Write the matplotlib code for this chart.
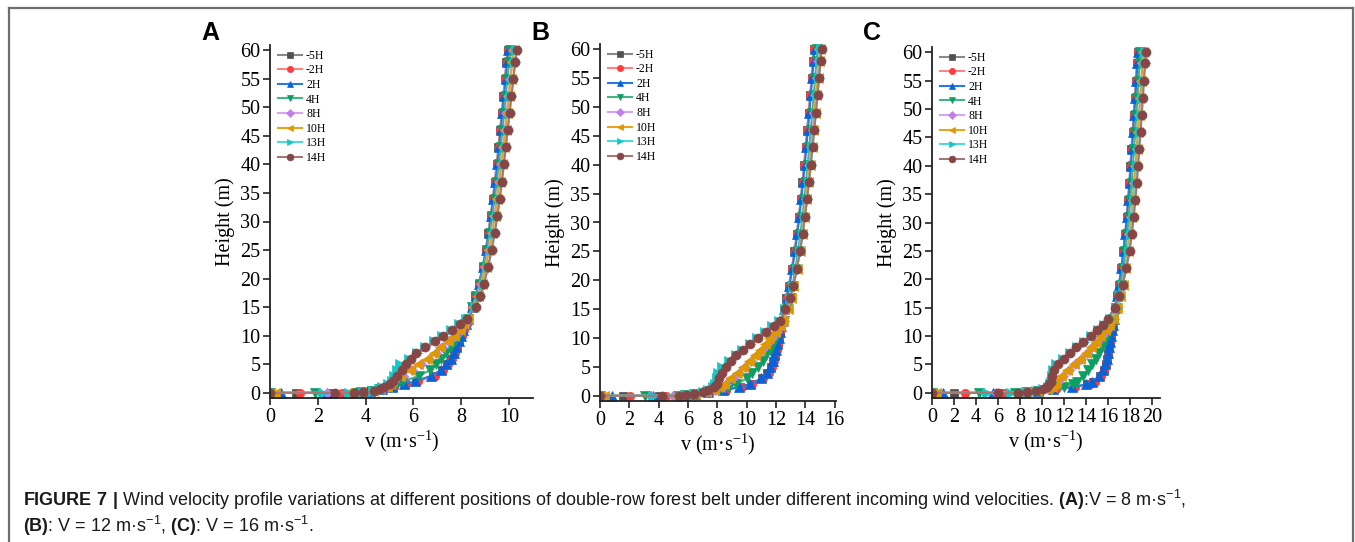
import matplotlib
matplotlib.use("Agg")
import matplotlib.pyplot as plt
from matplotlib.lines import Line2D

plt.rcParams['font.family'] = ['Liberation Serif', 'DejaVu Serif']
plt.rcParams['mathtext.fontset'] = 'custom'
plt.rcParams['mathtext.rm'] = 'Liberation Serif'
plt.rcParams['mathtext.sf'] = 'Liberation Sans'
plt.rcParams['mathtext.bf'] = 'Liberation Sans:bold'

# heights shared by every profile (m)
heights = [0, 0, 0, 0.1, 0.3, 0.6, 1, 1.5, 2, 3, 4, 5, 6, 7, 8, 9, 10, 11, 12, 13,
           15, 17, 19, 22, 25, 28, 31, 34, 37, 40, 43, 46, 49, 52, 55, 58, 60]

positions = ['-5H', '-2H', '2H', '4H', '8H', '10H', '13H', '14H']

# panel A, V = 8 m/s
a_m5h = [0, 1.1, 2.6, 3.7, 4.2, 4.7, 5.15, 5.65, 6.1, 6.8, 7.2, 7.42, 7.58, 7.7, 7.81, 7.9, 7.99, 8.08, 8.18, 8.28,
         8.44, 8.59, 8.73, 8.89, 9.02, 9.13, 9.23, 9.32, 9.4, 9.48, 9.55, 9.62, 9.69, 9.76, 9.82, 9.89, 9.94]
a_m2h = [0, 1.25, 3.0, 3.75, 4.25, 4.75, 5.2, 5.7, 6.2, 6.9, 7.25, 7.45, 7.6, 7.72, 7.83, 7.92, 8.02, 8.12, 8.22, 8.3,
         8.45, 8.6, 8.75, 8.9, 9.03, 9.14, 9.24, 9.33, 9.41, 9.49, 9.56, 9.63, 9.7, 9.77, 9.83, 9.9, 9.95]
a_2h = [0, 0.45, 2.4, 3.7, 4.2, 4.7, 5.1, 5.6, 6.05, 6.75, 7.15, 7.38, 7.55, 7.68, 7.79, 7.89, 7.98, 8.08, 8.18, 8.28,
        8.44, 8.6, 8.74, 8.9, 9.04, 9.15, 9.25, 9.34, 9.43, 9.51, 9.58, 9.65, 9.72, 9.79, 9.86, 9.92, 9.97]
a_4h = [0, 1.9, 3.6, 3.8, 4.25, 4.6, 5.0, 5.3, 5.55, 6.25, 6.7, 6.95, 7.15, 7.38, 7.58, 7.75, 7.9, 8.02, 8.14, 8.28,
        8.45, 8.62, 8.77, 8.93, 9.07, 9.19, 9.3, 9.4, 9.49, 9.57, 9.65, 9.72, 9.79, 9.86, 9.93, 10.0, 10.05]
a_8h = [0, 2.4, 3.4, 3.8, 4.3, 4.65, 4.95, 5.1, 5.2, 5.55, 5.95, 6.3, 6.65, 6.95, 7.2, 7.5, 7.75, 8.0, 8.15, 8.3,
        8.5, 8.68, 8.83, 9.0, 9.14, 9.27, 9.38, 9.48, 9.57, 9.66, 9.74, 9.82, 9.89, 9.97, 10.04, 10.11, 10.16]
a_10h = [0, 0.2, 3.2, 3.8, 4.3, 4.6, 4.9, 5.0, 5.1, 5.45, 5.85, 6.2, 6.55, 6.85, 7.1, 7.45, 7.7, 7.95, 8.12, 8.3,
         8.5, 8.69, 8.85, 9.02, 9.17, 9.3, 9.41, 9.51, 9.6, 9.69, 9.77, 9.85, 9.92, 10.0, 10.07, 10.14, 10.2]
a_13h = [0, 2.2, 3.3, 3.9, 4.3, 4.55, 4.7, 4.95, 5.1, 5.2, 5.3, 5.45, 5.8, 6.15, 6.5, 6.85, 7.2, 7.55, 7.9, 8.2,
         8.58, 8.78, 8.94, 9.12, 9.27, 9.4, 9.51, 9.61, 9.7, 9.78, 9.86, 9.94, 10.02, 10.1, 10.18, 10.25, 10.3]
a_14h = [0, 2.7, 3.5, 3.9, 4.35, 4.6, 4.75, 5.0, 5.15, 5.3, 5.5, 5.7, 5.9, 6.1, 6.5, 6.9, 7.25, 7.6, 7.95, 8.25,
         8.6, 8.8, 8.95, 9.12, 9.27, 9.4, 9.51, 9.61, 9.7, 9.78, 9.86, 9.94, 10.02, 10.1, 10.18, 10.26, 10.32]

# panel B, V = 12 m/s
b_m5h = [0, 1.6, 4.0, 5.8, 6.5, 7.4, 8.5, 9.55, 10.3, 11.05, 11.42, 11.64, 11.8, 11.93, 12.03, 12.12, 12.2, 12.28, 12.35, 12.42,
         12.55, 12.71, 12.88, 13.08, 13.26, 13.42, 13.56, 13.69, 13.81, 13.92, 14.03, 14.13, 14.23, 14.33, 14.43, 14.52, 14.58]
b_m2h = [0, 2.05, 4.5, 5.9, 6.6, 7.5, 8.6, 9.7, 10.4, 11.15, 11.5, 11.7, 11.85, 11.97, 12.07, 12.15, 12.22, 12.3, 12.37, 12.44,
         12.57, 12.73, 12.9, 13.1, 13.28, 13.44, 13.58, 13.71, 13.83, 13.94, 14.05, 14.15, 14.25, 14.35, 14.45, 14.55, 14.62]
b_2h = [0, 0.8, 3.6, 5.8, 6.5, 7.4, 8.4, 9.5, 10.2, 11.0, 11.38, 11.6, 11.77, 11.9, 12.0, 12.1, 12.18, 12.27, 12.35, 12.43,
        12.57, 12.74, 12.92, 13.12, 13.3, 13.46, 13.6, 13.73, 13.85, 13.97, 14.08, 14.18, 14.28, 14.38, 14.48, 14.57, 14.64]
b_4h = [0, 3.1, 5.3, 5.8, 6.5, 7.3, 8.1, 8.8, 9.3, 10.0, 10.4, 10.8, 11.1, 11.35, 11.6, 11.8, 12.0, 12.2, 12.4, 12.58,
        12.77, 12.95, 13.13, 13.33, 13.51, 13.67, 13.81, 13.94, 14.06, 14.17, 14.28, 14.38, 14.48, 14.58, 14.68, 14.77, 14.83]
b_8h = [0, 3.5, 5.0, 5.8, 6.5, 7.2, 7.85, 8.3, 8.6, 9.05, 9.5, 9.9, 10.3, 10.7, 11.05, 11.4, 11.7, 12.05, 12.35, 12.58,
        12.82, 13.02, 13.2, 13.42, 13.6, 13.76, 13.91, 14.04, 14.16, 14.28, 14.39, 14.5, 14.6, 14.7, 14.8, 14.9, 14.96]
b_10h = [0, 0.3, 5.1, 5.8, 6.5, 7.2, 7.8, 8.2, 8.45, 8.9, 9.35, 9.75, 10.15, 10.55, 10.9, 11.25, 11.55, 11.95, 12.25, 12.5,
         12.8, 13.02, 13.2, 13.43, 13.62, 13.79, 13.94, 14.07, 14.2, 14.32, 14.43, 14.54, 14.64, 14.75, 14.85, 14.95, 15.02]
b_13h = [0, 3.6, 5.5, 5.9, 6.4, 7.0, 7.35, 7.7, 7.85, 7.95, 8.05, 8.3, 8.8, 9.25, 9.7, 10.2, 10.7, 11.25, 11.75, 12.2,
         12.65, 12.97, 13.18, 13.43, 13.64, 13.82, 13.98, 14.12, 14.25, 14.37, 14.49, 14.6, 14.71, 14.82, 14.93, 15.03, 15.1]
b_14h = [0, 4.2, 5.4, 5.9, 6.4, 7.0, 7.4, 7.8, 8.0, 8.15, 8.35, 8.6, 8.95, 9.3, 9.75, 10.25, 10.8, 11.35, 11.85, 12.3,
         12.65, 12.97, 13.18, 13.43, 13.65, 13.83, 13.99, 14.13, 14.26, 14.38, 14.5, 14.62, 14.73, 14.84, 14.95, 15.05, 15.12]

# panel C, V = 16 m/s
c_m5h = [0, 2.0, 6.0, 8.5, 9.7, 11.1, 12.8, 14.1, 14.65, 15.25, 15.58, 15.77, 15.9, 16.0, 16.08, 16.16, 16.23, 16.31, 16.4, 16.5,
         16.64, 16.8, 16.97, 17.17, 17.37, 17.53, 17.68, 17.8, 17.91, 18.01, 18.11, 18.21, 18.31, 18.41, 18.51, 18.6, 18.67]
c_m2h = [0, 3.0, 6.5, 8.5, 9.8, 11.3, 13.0, 14.3, 14.8, 15.35, 15.65, 15.82, 15.93, 16.02, 16.1, 16.17, 16.24, 16.32, 16.42, 16.52,
         16.66, 16.83, 17.0, 17.2, 17.4, 17.55, 17.7, 17.82, 17.93, 18.03, 18.13, 18.23, 18.33, 18.43, 18.53, 18.62, 18.7]
c_2h = [0, 1.0, 5.5, 8.4, 9.6, 11.0, 12.7, 14.0, 14.55, 15.2, 15.52, 15.72, 15.86, 15.97, 16.06, 16.14, 16.22, 16.3, 16.4, 16.5,
        16.65, 16.82, 17.0, 17.2, 17.39, 17.55, 17.7, 17.83, 17.95, 18.06, 18.16, 18.26, 18.36, 18.46, 18.56, 18.65, 18.72]
c_4h = [0, 4.3, 7.5, 8.5, 9.6, 10.9, 12.0, 12.8, 13.2, 13.7, 14.2, 14.55, 14.85, 15.15, 15.4, 15.6, 15.85, 16.05, 16.25, 16.45,
        16.7, 16.92, 17.12, 17.35, 17.55, 17.72, 17.87, 18.0, 18.12, 18.24, 18.35, 18.45, 18.55, 18.65, 18.75, 18.84, 18.9]
c_8h = [0, 8.3, 5.8, 8.5, 9.5, 10.5, 11.0, 11.25, 11.45, 11.85, 12.45, 13.0, 13.55, 14.1, 14.55, 15.0, 15.4, 15.85, 16.2, 16.5,
        16.83, 17.1, 17.32, 17.56, 17.76, 17.93, 18.08, 18.22, 18.35, 18.47, 18.58, 18.69, 18.8, 18.9, 19.0, 19.1, 19.16]
c_10h = [0, 0.4, 7.7, 8.5, 9.5, 10.4, 10.9, 11.1, 11.3, 11.7, 12.3, 12.85, 13.4, 13.95, 14.4, 14.85, 15.25, 15.75, 16.1, 16.45,
         16.8, 17.08, 17.3, 17.55, 17.75, 17.93, 18.08, 18.22, 18.35, 18.47, 18.58, 18.69, 18.8, 18.9, 19.0, 19.1, 19.16]
c_13h = [0, 5.0, 7.2, 8.6, 9.4, 10.1, 10.5, 10.7, 10.8, 10.9, 11.0, 11.3, 11.9, 12.55, 13.2, 13.8, 14.4, 15.05, 15.65, 16.15,
         16.7, 17.1, 17.35, 17.62, 17.85, 18.05, 18.22, 18.37, 18.51, 18.64, 18.76, 18.88, 18.99, 19.1, 19.21, 19.31, 19.38]
c_14h = [0, 6.0, 7.8, 8.6, 9.4, 10.1, 10.45, 10.65, 10.8, 10.9, 11.05, 11.4, 12.0, 12.5, 13.05, 13.7, 14.4, 15.0, 15.5, 15.95,
         16.6, 17.0, 17.3, 17.65, 17.95, 18.15, 18.32, 18.47, 18.6, 18.72, 18.83, 18.94, 19.05, 19.15, 19.25, 19.35, 19.42]

line_colors = ['#8a8a8a', '#ff8585', '#2a78e4', '#45b487', '#d2a6f2', '#e6a51c', '#4fdada', '#a57878']
marker_colors = ['#505050', '#ff3b3b', '#0a62d8', '#0e9e62', '#c27fe6', '#de9800', '#16c6c6', '#874646']
markers = ['s', 'o', '^', 'v', 'D', '<', '>', 'o']
marker_sizes = [5.5, 6, 6.5, 6.5, 5, 6.5, 6.5, 6.5]

panels = [
    ('A', [a_m5h, a_m2h, a_2h, a_4h, a_8h, a_10h, a_13h, a_14h], 11.0, [0, 2, 4, 6, 8, 10], [270, 45, 533, 398]),
    ('B', [b_m5h, b_m2h, b_2h, b_4h, b_8h, b_10h, b_13h, b_14h], 16.1, list(range(0, 17, 2)), [600, 44, 836, 401]),
    ('C', [c_m5h, c_m2h, c_2h, c_4h, c_8h, c_10h, c_13h, c_14h], 20.7, list(range(0, 21, 2)), [932, 47, 1160, 398]),
]

W, H = 1355, 542
fig = plt.figure(figsize=(W / 100, H / 100), dpi=100)

for letter, series, xmax, xticks, box in panels:
    x0, y0, x1, y1 = box
    ax = fig.add_axes([x0 / W, 1 - y1 / H, (x1 - x0) / W, (y1 - y0) / H])
    for i, v in enumerate(series):
        ax.plot(v, heights, color=line_colors[i], lw=1.5, marker=markers[i], ms=marker_sizes[i],
                mfc=marker_colors[i], mec=marker_colors[i], mew=0.5, label=positions[i])
    ax.set_xlim(0, xmax)
    ax.set_ylim(-0.9, 60.9)
    ax.set_xticks(xticks)
    ax.set_yticks(range(0, 61, 5))
    for s in ['top', 'right']:
        ax.spines[s].set_visible(False)
    for s in ['left', 'bottom']:
        ax.spines[s].set_linewidth(1.3)
        ax.spines[s].set_color('#222222')
    ax.tick_params(direction='out', length=5, width=1.2, labelsize=14.5, pad=2, color='#222222')
    ax.set_xlabel('v (m·s$^{-1}$)', fontsize=14.5, labelpad=1)
    ax.set_ylabel('Height (m)', fontsize=14.5, labelpad=4)
    ax.legend(loc='upper left', bbox_to_anchor=(0.0, 1.01), frameon=False, fontsize=8.5,
              handlelength=2.0, handletextpad=0.35, labelspacing=0.22, borderaxespad=0.3, numpoints=1,
              markerscale=0.75)
    fig.text((x0 - 60) / W, 1 - 33 / H, letter, fontsize=18, fontweight='bold',
             family='Liberation Sans', ha='center', va='center')

# caption
fig.text(23 / W, 1 - 500 / H,
         r'$\mathbf{FIGURE\ 7\ |}$ Wind velocity profile variations at different positions of double-row forest belt '
         r'under different incoming wind velocities. $\mathbf{(A)}$:V = 8 m·s$^{\mathsf{-1}}$,',
         family='Liberation Sans', fontsize=13, va='center', color='#1a1a1a')
fig.text(23 / W, 1 - 526 / H,
         r'$\mathbf{(B)}$: V = 12 m·s$^{\mathsf{-1}}$, $\mathbf{(C)}$: V = 16 m·s$^{\mathsf{-1}}$.',
         family='Liberation Sans', fontsize=13, va='center', color='#1a1a1a')

# outer frame
frame = dict(color='#6e6e6e', lw=1.6, transform=fig.transFigure)
fig.add_artist(Line2D([9 / W, 1353 / W], [1 - 8 / H, 1 - 8 / H], **frame))
fig.add_artist(Line2D([9 / W, 9 / W], [0, 1 - 8 / H], **frame))
fig.add_artist(Line2D([1353 / W, 1353 / W], [0, 1 - 8 / H], **frame))

fig.savefig('out.png', dpi=100)
